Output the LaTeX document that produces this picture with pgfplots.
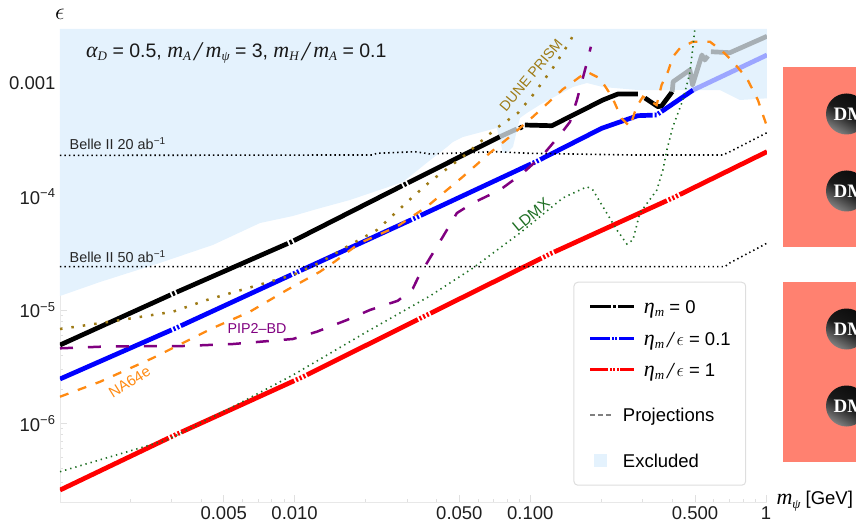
\documentclass[border=0pt]{standalone}
\usepackage{fix-cm}
\usepackage{pgfplots}
\pgfplotsset{compat=1.18}
\usepackage{fontspec}
\setmainfont{Liberation Sans}
\newfontfamily\mi{Liberation Serif Italic}
\newfontfamily\serifb{Liberation Serif Bold}
\definecolor{excl}{HTML}{E4F2FD}
\definecolor{grayk}{HTML}{A7AFB4}
\definecolor{lightb}{HTML}{9CA6FF}
\definecolor{dune}{HTML}{9E7B16}
\definecolor{naor}{HTML}{FF8A12}
\definecolor{pip}{HTML}{800080}
\definecolor{ldmx}{HTML}{1F6F24}
\definecolor{salmon2}{HTML}{FF8170}
\newcommand\tl{\fontsize{18.5}{22}\selectfont}
\newcommand\su[1]{\raisebox{-3.5pt}{\fontsize{13}{13}\selectfont\mi #1}}
\newcommand\ml[1]{{\fontsize{22}{22}\selectfont\mi #1}}
\newcommand\bs{\hspace{3pt}\raisebox{-3.5pt}{\fontsize{27}{27}\selectfont\mi /}\hspace{4pt}}
\tikzset{
 kk/.style={line width=4.7pt,black,line join=round},
 pblack/.style={dash pattern=on 121.5pt off 2pt on 2.5pt off 2pt},
 pblue/.style={dash pattern=on 122pt off 2pt on 2pt off 2pt on 2pt off 2pt},
 pred/.style={dash pattern=on 124pt off 2pt on 2pt off 2pt on 2pt off 2pt on 2pt off 2pt,dash phase=3.5pt},
}
\pgfplotsset{
 leglong/.style={legend image code/.code={\draw[##1] (0pt,6.5pt)--(44pt,6.5pt);}},
 legshort/.style={legend image code/.code={\draw[##1] (0pt,6.5pt)--(21pt,6.5pt);}},
 legbox/.style={legend image code/.code={\fill[excl,sharp corners] (4pt,0.5pt) rectangle (16pt,12.5pt);}},
}
\begin{document}
\begin{tikzpicture}[x=1pt,y=1pt]
\path[use as bounding box] (0,0) rectangle (856,528);
\begin{axis}[
 at={(60pt,25.7pt)},anchor=south west,
 scale only axis,width=707pt,height=473.3pt,
 xmode=log,ymode=log,
 xmin=0.00101,xmax=1.01,ymin=2.012e-7,ymax=3.027e-3,
 axis lines=left,
 axis line style={-,draw=black!9,line width=0.8pt},
 tick align=inside,
 tick style={draw=black!12,line width=0.7pt},
 major tick length=7pt,minor tick length=3.5pt,
 xtick={0.005,0.01,0.05,0.1,0.5,1},
 xticklabels={0.005,0.010,0.050,0.100,0.500,1},
 minor xtick={0.002,0.003,0.004,0.006,0.007,0.008,0.009,0.02,0.03,0.04,0.06,0.07,0.08,0.09,0.2,0.3,0.4,0.6,0.7,0.8,0.9},
 ytick={1e-6,1e-5,1e-4,1e-3},
 yticklabels={10\textsuperscript{−6},10\textsuperscript{−5},10\textsuperscript{−4},0.001},
 minor ytick={3e-7,4e-7,5e-7,6e-7,7e-7,8e-7,9e-7,2e-6,3e-6,4e-6,5e-6,6e-6,7e-6,8e-6,9e-6,2e-5,3e-5,4e-5,5e-5,6e-5,7e-5,8e-5,9e-5,2e-4,3e-4,4e-4,5e-4,6e-4,7e-4,8e-4,9e-4,2e-3,3e-3},
 tick label style={font=\tl,text=black!88},
 xticklabel style={yshift=-1pt},
 yticklabel style={xshift=-1pt},
 ylabel={$\epsilon$},
 ylabel style={font=\fontsize{24}{24}\selectfont,rotate=-90,at={(axis description cs:0,1)},anchor=south,yshift=6pt},
 xlabel={\ml{m}\su{ψ} [GeV]},
 xlabel style={font=\fontsize{18.5}{20}\selectfont,at={(axis description cs:1,0)},anchor=west,xshift=6pt,yshift=1pt},
 legend style={at={(rel axis cs:0.7262,0.466)},anchor=north west,draw=black!13,line width=1pt,rounded corners=4pt,fill=white,
   font=\tl,inner xsep=15pt,inner ysep=7pt,nodes={inner sep=0pt,text depth=11pt},row sep=0pt,
   cells={anchor=base west},
   /tikz/column 1/.style={column sep=8pt}},
]
% excluded region
\addplot[draw=none,fill=excl,forget plot] coordinates {
(0.00101,1.332e-5)(0.001493,1.77e-5)(0.002682,2.61e-5)(0.0045,3.76e-5)(0.00713,5.87e-5)(0.00983,6.77e-5)(0.01243,7.80e-5)(0.01716,9.37e-5)(0.0288,1.35e-4)(0.03677,2.03e-4)(0.0443,2.75e-4)(0.04695,3.05e-4)(0.05176,3.37e-4)(0.0721,4.05e-4)(0.0743,3.17e-4)(0.0765,2.44e-4)(0.0803,2.49e-4)(0.0844,2.75e-4)(0.0904,4.96e-4)(0.0967,5.49e-4)(0.1131,6.73e-4)(0.1516,9.31e-4)(0.1738,1.01e-3)(0.2032,9.31e-4)(0.286,8.76e-4)(0.49,8.76e-4)(0.6375,8.76e-4)(0.775,7.15e-4)(1.01,7.40e-4)(1.01,3.027e-3)(0.00101,3.027e-3)} --cycle;
% black
\addplot[kk,pblack,forget plot] coordinates {(0.00101,4.92e-6)(0.003075,1.406e-5)(0.00974,4.02e-5)(0.0294,1.289e-4)(0.0743,3.39e-4)};
\addplot[kk,grayk,forget plot] coordinates {(0.0743,3.39e-4)(0.0877,3.97e-4)};
\addplot[kk,forget plot] coordinates {(0.0900,4.02e-4)(0.0925,4.15e-4)};
\addplot[kk,forget plot] coordinates {(0.0949,4.30e-4)(0.1235,4.24e-4)(0.2032,7.15e-4)(0.2355,8.08e-4)(0.286,8.08e-4)};
\addplot[kk,forget plot] coordinates {(0.3063,7.45e-4)(0.348,6.24e-4)(0.3606,6.33e-4)(0.4,8.46e-4)};
\addplot[kk,grayk,forget plot] coordinates {(0.4,8.46e-4)(0.4037,1.037e-3)(0.4754,1.316e-3)(0.488,9.70e-4)(0.5346,1.784e-3)(0.55,1.612e-3)(0.567,1.748e-3)};
\addplot[kk,grayk,forget plot] coordinates {(0.584,1.908e-3)(0.703,1.870e-3)(1.01,2.61e-3)};
% blue
\addplot[kk,blue,pblue,forget plot] coordinates {(0.00101,2.466e-6)(0.003157,6.99e-6)(0.01033,2.18e-5)(0.03335,6.67e-5)(0.1076,2.08e-4)(0.2007,4.02e-4)(0.286,5.20e-4)(0.3436,5.27e-4)(0.3548,5.53e-4)(0.4909,8.76e-4)};
\addplot[kk,lightb,forget plot] coordinates {(0.4909,8.76e-4)(1.01,1.784e-3)};
% red
\addplot[kk,red,pred,forget plot] coordinates {(0.00101,2.58e-7)(0.003105,7.90e-7)(0.01085,2.58e-6)(0.03502,8.69e-6)(0.1235,3.19e-5)(0.4107,9.96e-5)(1.01,2.50e-4)};
% Belle II
\addplot[line width=1.6pt,black,dash pattern=on 1.4pt off 3.1pt,forget plot] coordinates {(0.00101,2.32e-4)(0.02128,2.34e-4)(0.02234,2.42e-4)(0.03238,2.50e-4)(0.0375,2.39e-4)(0.0721,2.50e-4)(0.0995,2.42e-4)(0.2646,2.34e-4)(0.656,2.34e-4)(0.703,2.50e-4)(1.01,3.68e-4)};
\addplot[line width=1.6pt,black,dash pattern=on 1.4pt off 3.1pt,forget plot] coordinates {(0.00101,2.42e-5)(0.669,2.42e-5)(0.703,2.61e-5)(0.99,3.81e-5)(1.01,3.91e-5)};
% DUNE PRISM
\addplot[line width=2.5pt,dune,dash pattern=on 2.5pt off 9pt,forget plot] coordinates {(0.00101,6.81e-6)(0.001646,7.90e-6)(0.003045,9.68e-6)(0.004233,1.227e-5)(0.00983,2.04e-5)(0.0128,2.63e-5)(0.01716,3.76e-5)(0.02234,5.09e-5)(0.03177,1.002e-4)(0.0375,1.36e-4)(0.05176,2.26e-4)(0.0721,4.05e-4)(0.0886,5.49e-4)(0.1026,7.92e-4)(0.1247,1.37e-3)(0.1472,2.34e-3)(0.1531,2.77e-3)};
% PIP2-BD
\addplot[line width=2.5pt,pip,dash pattern=on 13pt off 15pt,forget plot] coordinates {(0.00101,4.60e-6)(0.001493,4.75e-6)(0.002362,4.82e-6)(0.003358,4.82e-6)(0.005473,5.02e-6)(0.00983,5.56e-6)(0.01243,6.45e-6)(0.01667,8.18e-6)(0.02086,1.002e-5)(0.02743,1.21e-5)(0.03177,1.557e-5)(0.03335,1.92e-5)(0.0375,2.88e-5)(0.04258,4.45e-5)(0.04881,7.19e-5)(0.05708,8.82e-5)(0.0743,1.148e-4)(0.0930,1.62e-4)(0.1131,2.34e-4)(0.1335,3.51e-4)(0.1472,4.57e-4)(0.1577,7.15e-4)(0.1738,1.52e-3)(0.1807,2.11e-3)};
% NA64e
\addplot[line width=2.3pt,naor,dash pattern=on 9pt off 10pt,forget plot] coordinates {(0.00101,1.72e-6)(0.001493,2.33e-6)(0.002505,3.78e-6)(0.003358,5.13e-6)(0.0045,6.95e-6)(0.00646,9.68e-6)(0.00927,1.505e-5)(0.0128,2.18e-5)(0.01454,2.61e-5)(0.01892,3.91e-5)(0.02716,5.45e-5)(0.0364,8.18e-5)(0.05176,1.505e-4)(0.0674,2.44e-4)(0.0819,3.39e-4)(0.1026,5.09e-4)(0.1374,8.89e-4)(0.1738,1.27e-3)(0.1974,1.11e-3)(0.222,7.65e-4)(0.2438,4.93e-4)(0.2646,4.16e-4)(0.2825,6.24e-4)(0.3006,7.65e-4)(0.3436,6.46e-4)(0.3606,9.70e-4)(0.3836,1.27e-3)(0.4027,1.72e-3)(0.4313,2.05e-3)(0.4898,2.34e-3)(0.578,2.34e-3)(0.656,1.908e-3)(0.724,1.56e-3)(0.830,1.11e-3)(0.924,7.15e-4)(1.01,4.16e-4)};
% LDMX
\addplot[line width=1.6pt,ldmx,dash pattern=on 1.4pt off 3.9pt,forget plot] coordinates {(0.00101,3.75e-7)(0.002872,7.14e-7)(0.005473,1.404e-6)(0.00983,2.67e-6)(0.02027,6.45e-6)(0.0375,1.332e-5)(0.05708,2.35e-5)(0.0904,4.79e-5)(0.1374,9.76e-5)(0.1738,1.228e-4)(0.1843,1.148e-4)(0.2032,8.18e-5)(0.2331,5.09e-5)(0.257,3.83e-5)(0.2725,4.16e-5)(0.2917,7.19e-5)(0.3444,1.148e-4)(0.3653,1.724e-4)(0.3798,2.59e-4)(0.4027,4.16e-4)(0.444,7.15e-4)(0.4754,1.24e-3)(0.4898,2.11e-3)(0.499,3.027e-3)};
% legend
\addlegendimage{leglong,line width=3pt,black,dash pattern=on 21pt off 2pt on 3pt off 2pt on 18pt}
\addlegendentry{\rule{0pt}{24pt}\ml{η}\su{m} = 0}
\addlegendimage{leglong,line width=3pt,blue,dash pattern=on 20pt off 1.5pt on 2pt off 1.5pt on 2pt off 1.5pt on 15.5pt}
\addlegendentry{\rule{0pt}{21pt}\ml{η}\su{m}\hspace{3pt}\raisebox{-2pt}{\fontsize{23}{23}\selectfont\mi /}\hspace{3pt}$\epsilon$ = 0.1}
\addlegendimage{leglong,line width=3pt,red,dash pattern=on 18pt off 1.5pt on 2pt off 1.5pt on 2pt off 1.5pt on 2pt off 1.5pt on 13.5pt}
\addlegendentry{\rule{0pt}{20pt}\ml{η}\su{m}\hspace{3pt}\raisebox{-2pt}{\fontsize{23}{23}\selectfont\mi /}\hspace{3pt}$\epsilon$ = 1}
\addlegendimage{legshort,line width=2pt,black!50,dash pattern=on 5pt off 3pt}
\addlegendentry{\rule{0pt}{34pt}\hspace*{-21pt}Projections}
\addlegendimage{legbox}
\addlegendentry{\rule{0pt}{35pt}\hspace*{-21pt}Excluded}
\end{axis}
% annotation and curve labels
\node[font=\fontsize{19.5}{22}\selectfont,anchor=west,text=black!90,inner sep=0pt] at (86,475) {\ml{α}\su{D} = 0.5, \ml{m}\su{A}\bs\ml{m}\su{ψ} = 3, \ml{m}\su{H}\bs\ml{m}\su{A} = 0.1};
\node[font=\fontsize{14.4}{16}\selectfont,anchor=west,text=black!85,inner sep=0pt] at (69.5,384.5) {Belle II 20 ab\textsuperscript{−1}};
\node[font=\fontsize{14.4}{16}\selectfont,anchor=west,text=black!85,inner sep=0pt] at (69.5,271) {Belle II 50 ab\textsuperscript{−1}};
\node[font=\fontsize{14.2}{16}\selectfont,text=dune,rotate=50] at (531,453) {DUNE PRISM};
\node[font=\fontsize{15.5}{16}\selectfont,text=ldmx,rotate=40] at (531,313) {LDMX};
\node[font=\fontsize{15}{16}\selectfont,text=naor,rotate=32] at (129.5,146) {NA64e};
\node[font=\fontsize{14.3}{16}\selectfont,text=pip] at (257,199) {PIP2–BD};
% side panels
\fill[salmon2] (783,280.7) rectangle (856,461);
\fill[salmon2] (783,66.5) rectangle (856,246.5);
\begin{scope}
\clip (0,0) rectangle (856,528);
\foreach \cy in {414,337,199,122}{
  \shade[top color=black!95,bottom color=black!50,middle color=black!90,shading angle=-30] (846.5,\cy) circle (20.5);
  \node[font=\fontsize{19}{20}\selectfont\serifb,text=white,anchor=west,inner sep=0pt] at (833.5,\cy) {DM};
}
\end{scope}
\end{tikzpicture}
\end{document}
